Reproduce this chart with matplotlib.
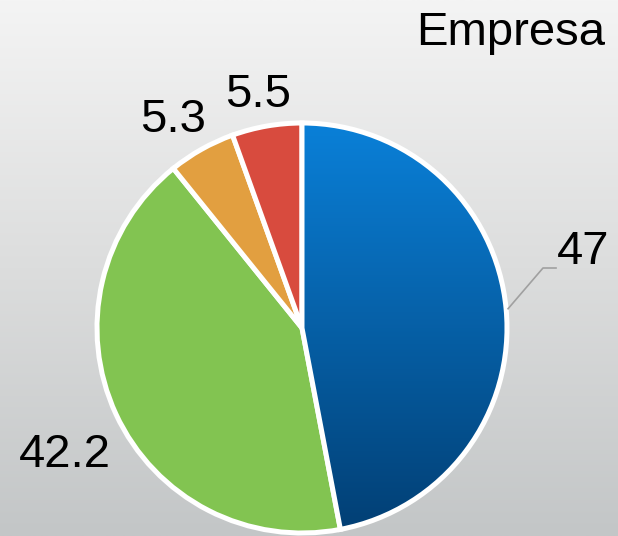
import numpy as np
import matplotlib
matplotlib.use("Agg")
import matplotlib.pyplot as plt
from matplotlib.colors import LinearSegmentedColormap

# data
labels = ["47", "42.2", "5.3", "5.5"]
values = [47, 42.2, 5.3, 5.5]
colors = ["#0a7bd2", "#82c451", "#e29f40", "#d84b3e"]
title = "Empresa"

W, H = 618, 536
fig = plt.figure(figsize=(W / 100, H / 100), dpi=100)
ax = fig.add_axes([0, 0, 1, 1])
ax.set_xlim(0, W)
ax.set_ylim(0, H)
ax.axis("off")

# background gradient
bg = LinearSegmentedColormap.from_list("bg", ["#c3c6c7", "#dcdddd", "#f4f4f4"])
grad = np.linspace(0, 1, 256).reshape(-1, 1)
ax.imshow(grad, cmap=bg, extent=[0, W, 0, H], origin="lower", aspect="auto", zorder=0)

cx, cy, r = 302, H - 328, 205
wedges, _ = ax.pie(values, colors=colors, startangle=90, counterclock=False,
                   center=(cx, cy), radius=r, frame=True,
                   wedgeprops=dict(edgecolor="white", linewidth=3.6))
ax.set_xlim(0, W)
ax.set_ylim(0, H)
ax.set_aspect("auto")
ax.axis("off")
for w in wedges:
    w.set_zorder(2)

# gradient for the blue slice
blue = LinearSegmentedColormap.from_list("blue", ["#023f74", "#0a80d8"])
im = ax.imshow(grad, cmap=blue, extent=[cx - r, cx + r, cy - r, cy + r],
               origin="lower", aspect="auto", zorder=3)
im.set_clip_path(wedges[0])
wedges[0].set_facecolor("none")
wedges[0].set_zorder(4)

fs = 34
font = "Liberation Sans"
ax.text(605, H - 33, title, ha="right", va="center", fontsize=fs, family=font)

# leader line for the first slice
total = sum(values)
mid = np.deg2rad(90 - values[0] / total * 360 / 2)
x0, y0 = cx + r * np.cos(mid), cy + r * np.sin(mid)
ax.plot([x0 + 2, 543, 556], [y0, H - 268, H - 268], color="#a0a0a0", lw=1.2, zorder=5)

label_pos = [(583, 252), (65, 455), (173, 120), (258, 95)]
for lab, (x, y) in zip(labels, label_pos):
    ax.text(x, H - y, lab, ha="center", va="center", fontsize=fs, family=font)

fig.savefig("out.png", dpi=100)
